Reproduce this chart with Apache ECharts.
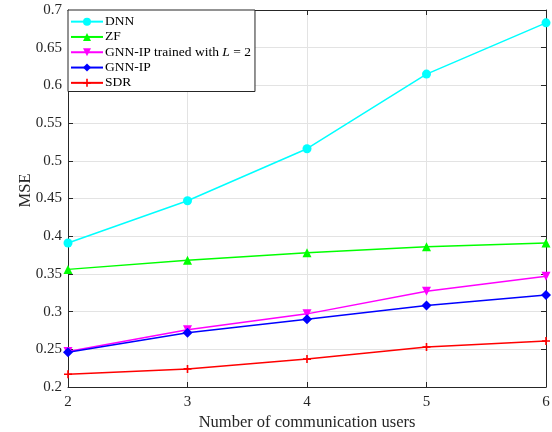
<!DOCTYPE html>
<html>
<head>
<meta charset="utf-8">
<script src="https://cdn.jsdelivr.net/npm/echarts@6/dist/echarts.min.js"></script>
<style>
  html, body { margin: 0; padding: 0; background: #fff; }
  #chart { width: 552px; height: 432px; }
</style>
</head>
<body>
<div id="chart"></div>
<script>
// Number of communication users
const users = [2, 3, 4, 5, 6];

// MSE for each scheme
const dnn      = [0.391, 0.447, 0.516, 0.615, 0.683];
const zf       = [0.356, 0.368, 0.378, 0.386, 0.391];
const gnnIpL2  = [0.247, 0.276, 0.297, 0.327, 0.347];
const gnnIp    = [0.246, 0.272, 0.290, 0.308, 0.322];
const sdr      = [0.217, 0.224, 0.237, 0.253, 0.261];

const seriesNames = ['DNN', 'ZF', 'GNN-IP trained with L = 2', 'GNN-IP', 'SDR'];

const FONT = '"Liberation Serif", "Times New Roman", serif';
const plusPath = 'path://M4,0 L6,0 L6,4 L10,4 L10,6 L6,6 L6,10 L4,10 L4,6 L0,6 L0,4 L4,4 Z';

function pairs(vals) { return users.map((u, i) => [u, vals[i]]); }

function lineSeries(name, vals, color, symbol, size, extra) {
  return Object.assign({
    name: name,
    type: 'line',
    data: pairs(vals),
    symbol: symbol,
    symbolSize: size,
    showSymbol: true,
    lineStyle: { color: color, width: 1.5 },
    itemStyle: { color: color, borderWidth: 0 },
    emphasis: { disabled: true },
    z: 3
  }, extra || {});
}

const chart = echarts.init(document.getElementById('chart'), null, { renderer: 'canvas' });

const axisTextColor = '#262626';
const tickLen = 5;

chart.setOption({
  animation: false,
  textStyle: { fontFamily: FONT },
  grid: { left: 68, right: 6, top: 10, bottom: 45, show: false, containLabel: false, outerBoundsMode: 'none' },
  legend: {
    orient: 'vertical',
    left: 68,
    top: 10,
    itemWidth: 32,
    itemHeight: 10,
    itemGap: 0,
    padding: [4, 4, 1, 2],
    backgroundColor: '#fff',
    borderColor: '#262626',
    borderWidth: 1,
    borderRadius: 0,
    textStyle: {
      fontFamily: FONT, fontSize: 13.5, color: '#000', lineHeight: 15.3, padding: [0, 0, 0, -3],
      rich: { it: { fontFamily: FONT, fontSize: 13.5, fontStyle: 'italic', color: '#000', lineHeight: 15.3 } }
    },
    formatter: function (n) {
      if (n === 'GNN-IP trained with L = 2') return 'GNN-IP trained with {it|L} = 2';
      return n;
    },
    data: seriesNames
  },
  xAxis: [{
    type: 'value', min: 2, max: 6, interval: 1,
    name: 'Number of communication users',
    nameLocation: 'middle', nameGap: 27, nameMoveOverlap: false,
    nameTextStyle: { fontFamily: FONT, fontSize: 16.5, color: axisTextColor },
    axisLine: { show: true, lineStyle: { color: '#262626', width: 1 } },
    axisTick: { show: true, inside: true, length: tickLen, lineStyle: { color: '#262626' } },
    axisLabel: { fontFamily: FONT, fontSize: 15, color: axisTextColor, margin: 8 },
    splitLine: { show: true, lineStyle: { color: '#e3e3e3', width: 1 } }
  }, {
    type: 'value', min: 2, max: 6, interval: 1, position: 'top',
    axisLine: { show: true, lineStyle: { color: '#262626', width: 1 } },
    axisTick: { show: true, inside: true, length: tickLen, lineStyle: { color: '#262626' } },
    axisLabel: { show: false },
    splitLine: { show: false }
  }],
  yAxis: [{
    type: 'value', min: 0.2, max: 0.7, interval: 0.05,
    name: 'MSE',
    nameLocation: 'middle', nameGap: 34, nameMoveOverlap: false,
    nameTextStyle: { fontFamily: FONT, fontSize: 16.5, color: axisTextColor, padding: [0, 0, 0, 16] },
    axisLine: { show: true, lineStyle: { color: '#262626', width: 1 } },
    axisTick: { show: true, inside: true, length: tickLen, lineStyle: { color: '#262626' } },
    axisLabel: {
      fontFamily: FONT, fontSize: 15, color: axisTextColor, margin: 6,
      formatter: v => String(parseFloat(v.toFixed(2)))
    },
    splitLine: { show: true, lineStyle: { color: '#e3e3e3', width: 1 } }
  }, {
    type: 'value', min: 0.2, max: 0.7, interval: 0.05, position: 'right',
    axisLine: { show: true, lineStyle: { color: '#262626', width: 1 } },
    axisTick: { show: true, inside: true, length: tickLen, lineStyle: { color: '#262626' } },
    axisLabel: { show: false },
    splitLine: { show: false }
  }],
  series: [
    lineSeries('DNN', dnn, '#00ffff', 'circle', 9),
    lineSeries('ZF', zf, '#00ff00', 'triangle', 9),
    lineSeries('GNN-IP trained with L = 2', gnnIpL2, '#ff00ff', 'triangle', 9, { symbolRotate: 180 }),
    lineSeries('GNN-IP', gnnIp, '#0000ff', 'diamond', 10),
    lineSeries('SDR', sdr, '#ff0000', plusPath, 8)
  ]
});
</script>
</body>
</html>
